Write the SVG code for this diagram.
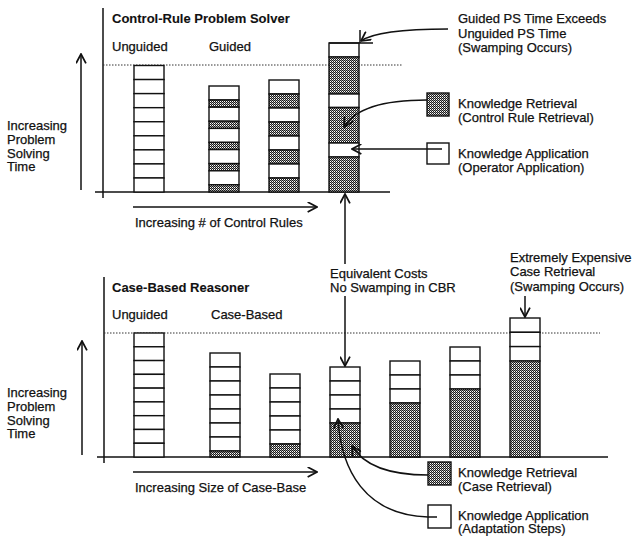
<svg xmlns="http://www.w3.org/2000/svg" width="637" height="536" viewBox="0 0 637 536">
<style>
.t{font-family:"Liberation Sans",Arial,sans-serif;font-size:13px;fill:#111;stroke:#111;stroke-width:0.25}
.b{font-weight:bold;stroke-width:0.1}
.ax{stroke:#111;stroke-width:1.5;fill:none}
.dot{stroke:#333;stroke-width:1;stroke-dasharray:1.5,1.5;fill:none}
.w{fill:#fff;stroke:#111;stroke-width:1.4}
.s{fill:url(#hatch);stroke:#111;stroke-width:1.4}
.ln{stroke:#111;stroke-width:1.5;fill:none}
.arr{stroke:#111;stroke-width:1.5;fill:none;marker-end:url(#head)}
</style>
<defs>
<pattern id="hatch" width="2" height="2" patternUnits="userSpaceOnUse">
<rect width="2" height="2" fill="#fff"/>
<rect x="0" y="0" width="1" height="1" fill="#1a1a1a"/>
<rect x="1" y="1" width="1" height="1" fill="#1a1a1a"/>
<rect x="1" y="0" width="1" height="1" fill="#999"/>
</pattern>
<marker id="head" viewBox="0 0 10 10" refX="9.5" refY="5" markerWidth="11" markerHeight="11" markerUnits="userSpaceOnUse" orient="auto">
<path d="M1,0.5 L9.5,5 L1,9.5" fill="none" stroke="#111" stroke-width="1.6"/>
</marker>
</defs>

<!-- ===== TOP PANEL ===== -->
<g id="top-axes">
<line class="ax" x1="103" y1="8" x2="103" y2="198"/>
<line class="ax" x1="95" y1="192" x2="390" y2="192"/>
<line class="dot" x1="103" y1="65" x2="402" y2="65"/>
</g>
<g id="top-labels">
<text class="t b" x="112" y="23">Control-Rule Problem Solver</text>
<text class="t" x="112" y="51">Unguided</text>
<text class="t" x="209" y="51">Guided</text>
<text class="t" x="7" y="129.5">Increasing</text>
<text class="t" x="7" y="143.5">Problem</text>
<text class="t" x="7" y="157.5">Solving</text>
<text class="t" x="7" y="171">Time</text>
<text class="t" x="135" y="226.5">Increasing # of Control Rules</text>
</g>

<g id="top-bar-unguided">
<rect class="w" x="134" y="65.5" width="30" height="14.06"/>
<rect class="w" x="134" y="79.56" width="30" height="14.06"/>
<rect class="w" x="134" y="93.62" width="30" height="14.06"/>
<rect class="w" x="134" y="107.68" width="30" height="14.06"/>
<rect class="w" x="134" y="121.74" width="30" height="14.06"/>
<rect class="w" x="134" y="135.8" width="30" height="14.06"/>
<rect class="w" x="134" y="149.86" width="30" height="14.06"/>
<rect class="w" x="134" y="163.92" width="30" height="14.06"/>
<rect class="w" x="134" y="177.98" width="30" height="14.02"/>
</g>
<g id="top-bar-guided1">
<rect class="w" x="209" y="86" width="30" height="14"/>
<rect class="s" x="209" y="100" width="30" height="7.2"/>
<rect class="w" x="209" y="107.2" width="30" height="14"/>
<rect class="s" x="209" y="121.2" width="30" height="7.2"/>
<rect class="w" x="209" y="128.4" width="30" height="14"/>
<rect class="s" x="209" y="142.4" width="30" height="7.2"/>
<rect class="w" x="209" y="149.6" width="30" height="14"/>
<rect class="s" x="209" y="163.6" width="30" height="7.2"/>
<rect class="w" x="209" y="170.8" width="30" height="14"/>
<rect class="s" x="209" y="184.8" width="30" height="7.2"/>
</g>
<g id="top-bar-guided2">
<rect class="w" x="269" y="80" width="30" height="14"/>
<rect class="s" x="269" y="94" width="30" height="14"/>
<rect class="w" x="269" y="108" width="30" height="14"/>
<rect class="s" x="269" y="122" width="30" height="14"/>
<rect class="w" x="269" y="136" width="30" height="14"/>
<rect class="s" x="269" y="150" width="30" height="14"/>
<rect class="w" x="269" y="164" width="30" height="14"/>
<rect class="s" x="269" y="178" width="30" height="14"/>
</g>
<g id="top-bar-guided3">
<rect class="w" x="329" y="43" width="30" height="14"/>
<rect class="s" x="329" y="57" width="30" height="37"/>
<rect class="w" x="329" y="94" width="30" height="13.5"/>
<rect class="s" x="329" y="107.5" width="30" height="35.5"/>
<rect class="w" x="329" y="143" width="30" height="14"/>
<rect class="s" x="329" y="157" width="30" height="35"/>
</g>

<g id="top-legend-retrieval">
<rect class="s" x="427" y="93" width="22" height="23"/>
<text class="t" x="458" y="107.5">Knowledge Retrieval</text>
<text class="t" x="458" y="121.5">(Control Rule Retrieval)</text>
</g>
<g id="top-legend-application">
<rect class="w" x="427" y="143" width="22" height="21"/>
<text class="t" x="458" y="157.5">Knowledge Application</text>
<text class="t" x="458" y="171.5">(Operator Application)</text>
</g>
<g id="top-callout-swamping">
<text class="t" x="458" y="23">Guided PS Time Exceeds</text>
<text class="t" x="458" y="37.5">Unguided PS Time</text>
<text class="t" x="458" y="52">(Swamping Occurs)</text>
</g>

<!-- ===== BOTTOM PANEL ===== -->
<g id="bottom-axes">
<line class="ax" x1="104" y1="277" x2="104" y2="463"/>
<line class="ax" x1="97" y1="457" x2="608" y2="457"/>
<line class="dot" x1="104" y1="333" x2="600" y2="333"/>
</g>
<g id="bottom-labels">
<text class="t b" x="112" y="291.5">Case-Based Reasoner</text>
<text class="t" x="112" y="318.5">Unguided</text>
<text class="t" x="211" y="318.5">Case-Based</text>
<text class="t" x="7" y="396.5">Increasing</text>
<text class="t" x="7" y="410.5">Problem</text>
<text class="t" x="7" y="424.5">Solving</text>
<text class="t" x="7" y="438">Time</text>
<text class="t" x="135" y="491.5">Increasing Size of Case-Base</text>
</g>

<g id="bottom-bar-unguided">
<rect class="w" x="134" y="333" width="30" height="13.78"/>
<rect class="w" x="134" y="346.78" width="30" height="13.78"/>
<rect class="w" x="134" y="360.56" width="30" height="13.78"/>
<rect class="w" x="134" y="374.34" width="30" height="13.78"/>
<rect class="w" x="134" y="388.12" width="30" height="13.78"/>
<rect class="w" x="134" y="401.9" width="30" height="13.78"/>
<rect class="w" x="134" y="415.68" width="30" height="13.78"/>
<rect class="w" x="134" y="429.46" width="30" height="13.78"/>
<rect class="w" x="134" y="443.24" width="30" height="13.76"/>
</g>
<g id="bottom-bar-cb1">
<rect class="w" x="210" y="353" width="30" height="14"/>
<rect class="w" x="210" y="367" width="30" height="14"/>
<rect class="w" x="210" y="381" width="30" height="14"/>
<rect class="w" x="210" y="395" width="30" height="14"/>
<rect class="w" x="210" y="409" width="30" height="14"/>
<rect class="w" x="210" y="423" width="30" height="14"/>
<rect class="w" x="210" y="437" width="30" height="14"/>
<rect class="s" x="210" y="451" width="30" height="6"/>
</g>
<g id="bottom-bar-cb2">
<rect class="w" x="270" y="374" width="30" height="14"/>
<rect class="w" x="270" y="388" width="30" height="14"/>
<rect class="w" x="270" y="402" width="30" height="14"/>
<rect class="w" x="270" y="416" width="30" height="14"/>
<rect class="w" x="270" y="430" width="30" height="14"/>
<rect class="s" x="270" y="444" width="30" height="13"/>
</g>
<g id="bottom-bar-cb3">
<rect class="w" x="330" y="367" width="30" height="14"/>
<rect class="w" x="330" y="381" width="30" height="14"/>
<rect class="w" x="330" y="395" width="30" height="14"/>
<rect class="w" x="330" y="409" width="30" height="14"/>
<rect class="s" x="330" y="423" width="30" height="34"/>
</g>
<g id="bottom-bar-cb4">
<rect class="w" x="390" y="361" width="30" height="14"/>
<rect class="w" x="390" y="375" width="30" height="14"/>
<rect class="w" x="390" y="389" width="30" height="14"/>
<rect class="s" x="390" y="403" width="30" height="54"/>
</g>
<g id="bottom-bar-cb5">
<rect class="w" x="450" y="347" width="30" height="14"/>
<rect class="w" x="450" y="361" width="30" height="14"/>
<rect class="w" x="450" y="375" width="30" height="14"/>
<rect class="s" x="450" y="389" width="30" height="68"/>
</g>
<g id="bottom-bar-cb6">
<rect class="w" x="510" y="318" width="30" height="14.3"/>
<rect class="w" x="510" y="332.3" width="30" height="14.3"/>
<rect class="w" x="510" y="346.6" width="30" height="14.4"/>
<rect class="s" x="510" y="361" width="30" height="96"/>
</g>

<g id="bottom-callout-equivalent">
<text class="t" x="330" y="277.5">Equivalent Costs</text>
<text class="t" x="330" y="291.5">No Swamping in CBR</text>
</g>
<g id="bottom-callout-expensive">
<text class="t" x="510" y="261.5">Extremely Expensive</text>
<text class="t" x="510" y="276">Case Retrieval</text>
<text class="t" x="510" y="290.5">(Swamping Occurs)</text>
</g>
<g id="bottom-legend-retrieval">
<rect class="s" x="428" y="462" width="23" height="23"/>
<text class="t" x="458" y="476.5">Knowledge Retrieval</text>
<text class="t" x="458" y="490.5">(Case Retrieval)</text>
</g>
<g id="bottom-legend-application">
<rect class="w" x="428" y="505" width="23" height="23"/>
<text class="t" x="458" y="519.5">Knowledge Application</text>
<text class="t" x="458" y="533">(Adaptation Steps)</text>
</g>

<!-- ===== CONNECTORS ===== -->
<g id="connectors">
<line class="arr" x1="81" y1="190" x2="81" y2="54"/>
<line class="arr" x1="82" y1="455" x2="82" y2="341"/>
<line class="arr" x1="133" y1="207" x2="317" y2="207"/>
<line class="arr" x1="133" y1="472" x2="317" y2="472"/>
<line class="ln" x1="360" y1="30" x2="360" y2="43"/>
<line class="ln" x1="329" y1="43" x2="373" y2="43"/>
<path class="arr" d="M448,29 C410,29 375,31 361,41"/>
<path class="arr" d="M427,100 C385,100 355,108 344,127"/>
<line class="arr" x1="442" y1="149" x2="352" y2="149"/>
<line class="arr" x1="345" y1="264" x2="345" y2="194"/>
<line class="arr" x1="345" y1="296" x2="345" y2="366"/>
<line class="arr" x1="525" y1="296" x2="525" y2="317"/>
<path class="arr" d="M428,475 C395,475 365,468 352,446"/>
<path class="arr" d="M437,517 L428,517 C365,515 341,470 338,419"/>
</g>
</svg>
